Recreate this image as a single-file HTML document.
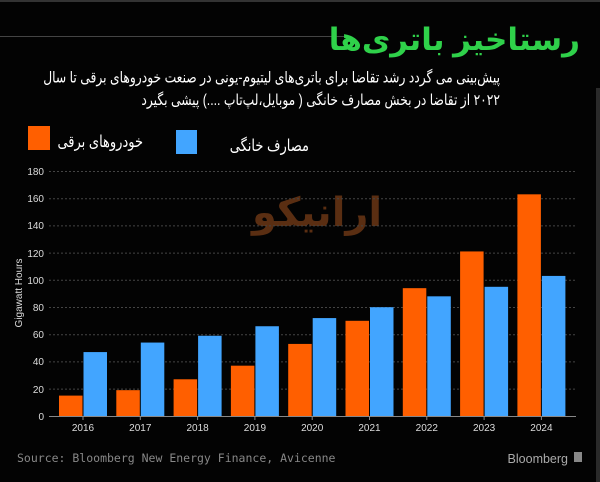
<!DOCTYPE html>
<html><head><meta charset="utf-8"><style>
body{margin:0;background:#000;}
.w{position:relative;width:600px;height:482px;background:#030303;overflow:hidden;font-family:"Liberation Sans","DejaVu Sans",sans-serif;}
.fa{font-family:"Liberation Sans","Noto Sans CJK SC","DejaVu Sans",sans-serif;direction:rtl;position:absolute;white-space:nowrap;}
</style></head><body><div class="w">
<div style="position:absolute;left:0;top:0;width:600px;height:2px;background:#333"></div>
<div style="position:absolute;left:0;top:36px;width:350px;height:1px;background:#444"></div>
<div style="position:absolute;left:596px;top:88px;width:4px;height:394px;background:#2a2a2a"></div>
<div class="fa" style="right:20px;top:22px;font-size:31px;font-weight:bold;color:#2fd14a;">رستاخیز باتری‌ها</div>
<div class="fa" style="right:100px;top:66px;font-size:12.3px;color:#fff;line-height:18px;text-align:right;transform:scaleY(1.25);transform-origin:right top;">پیش‌بینی می گردد رشد تقاضا برای باتری‌های لیتیوم-یونی در صنعت خودروهای برقی تا سال<br>۲۰۲۲ از تقاضا در بخش مصارف خانگی ( موبایل،لپ‌تاپ ....) پیشی بگیرد</div>
<div style="position:absolute;left:28px;top:126px;width:22px;height:24px;background:#ff5f00"></div>
<div class="fa" style="right:457px;top:134px;font-size:13px;color:#fff;transform:scaleY(1.25);">خودروهای برقی</div>
<div style="position:absolute;left:176px;top:130px;width:21px;height:24px;background:#42a5ff"></div>
<div class="fa" style="right:291px;top:138px;font-size:13px;color:#fff;transform:scaleY(1.25);">مصارف خانگی</div>
<div class="fa" style="left:252px;top:190px;font-size:40px;font-weight:bold;color:#5a2e12;">ارانیکو</div>
<svg width="600" height="482" style="position:absolute;left:0;top:0" font-family="Liberation Sans, DejaVu Sans, sans-serif">
<g stroke="#444" stroke-dasharray="2,2" stroke-width="1">
<line x1="49" x2="576" y1="171.5" y2="171.5"/><line x1="49" x2="576" y1="198.7" y2="198.7"/><line x1="49" x2="576" y1="225.9" y2="225.9"/><line x1="49" x2="576" y1="253.1" y2="253.1"/><line x1="49" x2="576" y1="280.3" y2="280.3"/><line x1="49" x2="576" y1="307.5" y2="307.5"/><line x1="49" x2="576" y1="334.7" y2="334.7"/><line x1="49" x2="576" y1="361.9" y2="361.9"/><line x1="49" x2="576" y1="389.1" y2="389.1"/>
</g>
<g fill="#ddd" font-size="10" text-anchor="end">
<text x="44" y="175">180</text><text x="44" y="202">160</text><text x="44" y="229">140</text><text x="44" y="257">120</text><text x="44" y="284">100</text><text x="44" y="311">80</text><text x="44" y="338">60</text><text x="44" y="365">40</text><text x="44" y="393">20</text><text x="44" y="420">0</text>
</g>
<text transform="translate(22,293) rotate(-90)" fill="#ddd" font-size="10" text-anchor="middle">Gigawatt Hours</text>
<g id="bars"></g>
<line x1="49" x2="576" y1="416.5" y2="416.5" stroke="#888"/>
<g fill="#ddd" font-size="10" text-anchor="middle" id="xl"></g>
<text x="17" y="462" fill="#888" font-size="11.5" font-family="DejaVu Sans Mono, Liberation Mono, monospace">Source: Bloomberg New Energy Finance, Avicenne</text>
<text x="568" y="463" fill="#aaa" font-size="12.5" text-anchor="end">Bloomberg</text>
<rect x="574" y="452" width="8" height="10" fill="#888"/>
</svg>
<script>
var o=[15,19,27,37,53,70,94,121,163],b=[47,54,59,66,72,80,88,95,103];
var g=document.getElementById('bars'),x=document.getElementById('xl'),s='',t='';
for(var i=0;i<9;i++){var c=83+i*57.3;var ho=o[i]*1.36,hb=b[i]*1.36;
s+='<rect x="'+(c-24)+'" y="'+(416-ho)+'" width="23.5" height="'+ho+'" fill="#ff5f00"/>';
s+='<rect x="'+(c+0.5)+'" y="'+(416-hb)+'" width="23.5" height="'+hb+'" fill="#42a5ff"/>';
s+='<line x1="'+c+'" x2="'+c+'" y1="416" y2="420" stroke="#888"/>';
t+='<text x="'+c+'" y="431">'+(2016+i)+'</text>';}
g.innerHTML=s;x.innerHTML=t;
</script>
</div></body></html>
